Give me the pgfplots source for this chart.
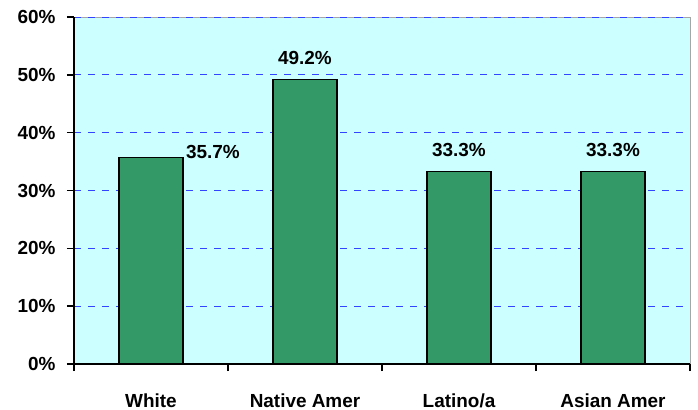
\documentclass[border=0pt]{standalone}
\usepackage{fontspec}
\setmainfont{Liberation Sans}
\usepackage{pgfplots}
\usepackage{pgfplotstable}
\pgfplotsset{compat=1.18}

\definecolor{plotbg}{HTML}{CCFFFF}
\definecolor{barfill}{HTML}{339966}
\definecolor{gridblue}{HTML}{3344FF}

% rate by group (White's label sits beside its bar)
\pgfplotstableread{
x y
0 35.7
}\whitedata
\pgfplotstableread{
x y
1 49.2
2 33.3
3 33.3
}\otherdata

\begin{document}
\begin{tikzpicture}
\path[use as bounding box] (-74bp,-46bp) rectangle (624bp,364bp);
\begin{axis}[
    scale only axis,
    width=616bp, height=347bp,
    xmin=-0.5, xmax=3.5,
    ymin=0, ymax=60,
    ytick={0,10,...,60},
    yticklabel={\pgfmathprintnumber{\tick}\%},
    xtick={-0.5,0.5,1.5,2.5,3.5},
    x tick label as interval,
    xticklabels={White,Native Amer,Latino/a,Asian Amer},
    tick align=outside,
    major tick length=7bp,
    tick style={black, line width=1.6pt},
    axis x line*=bottom, axis y line*=left,
    axis line style={-, black, line width=2.2pt},
    axis background/.style={fill=plotbg, draw=gray!70, line width=0.8pt},
    ymajorgrids,
    grid style={gridblue, dash pattern=on 7bp off 7bp, line width=0.7pt},
    /pgf/number format/assume math mode=true,
    ticklabel style={font=\fontsize{19}{22}\selectfont\bfseries},
    yticklabel style={xshift=-8bp},
    xticklabel style={yshift=-19bp},
    ybar, bar width=64bp, bar shift=0pt,
    nodes near coords={\pgfmathprintnumber[fixed,precision=1,fixed zerofill]{\pgfplotspointmeta}\%},
    every node near coord/.append style={anchor=center,
        font=\fontsize{19}{22}\selectfont\bfseries},
]
\addplot[fill=barfill, draw=black, line width=1.8pt,
    every node near coord/.append style={xshift=62bp, yshift=6bp}]
    table[x=x, y=y] {\whitedata};
\addplot[fill=barfill, draw=black, line width=1.8pt,
    every node near coord/.append style={yshift=21bp}]
    table[x=x, y=y] {\otherdata};
\end{axis}
\end{tikzpicture}
\end{document}
